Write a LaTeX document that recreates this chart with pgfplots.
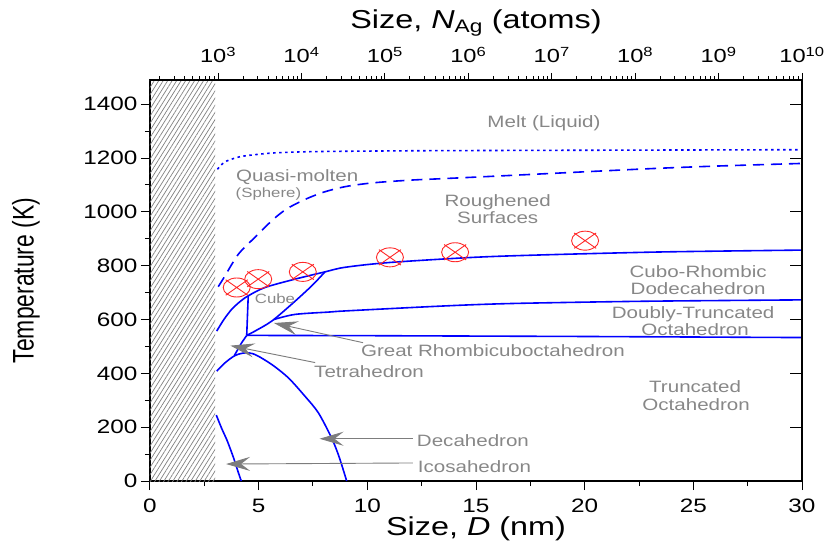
\documentclass[border=0pt]{standalone}
\usepackage{fontspec}
\setmainfont[FakeStretch=1.25]{Liberation Sans}
\newfontfamily\ylfont{Liberation Sans}
\usepackage{graphicx}
\usepackage{pgfplots}
\pgfplotsset{compat=1.18}
\usetikzlibrary{patterns.meta,arrows.meta}
\definecolor{lblgray}{RGB}{135,135,135}
\definecolor{arrgray}{RGB}{125,125,125}
\definecolor{mkred}{RGB}{255,40,40}
\pgfdeclareplotmark{ox}{%
  \pgfpathellipse{\pgfpointorigin}{\pgfpoint{13.5bp}{0bp}}{\pgfpoint{0bp}{9.5bp}}%
  \pgfpathmoveto{\pgfpoint{-11bp}{-7.7bp}}\pgfpathlineto{\pgfpoint{11bp}{7.7bp}}%
  \pgfpathmoveto{\pgfpoint{-11bp}{7.7bp}}\pgfpathlineto{\pgfpoint{11bp}{-7.7bp}}%
  \pgfusepathqstroke}
\tikzset{lbl/.style={text=lblgray,font=\fontsize{16.5}{18}\selectfont,anchor=base,inner sep=0pt},
  slbl/.style={text=lblgray,font=\fontsize{13.5}{15}\selectfont,anchor=base,inner sep=0pt},
  ann/.style={draw=arrgray,line width=0.9bp,{Stealth[length=24bp,width=14bp,inset=9bp]}-}}
\begin{document}
\begin{tikzpicture}
\begin{axis}[
  at={(0,0)}, anchor=south west,
  width=652bp, height=401bp, scale only axis,
  xmin=0, xmax=30, ymin=0, ymax=1490,
  xtick={0,5,...,30}, minor x tick num=1,
  ytick={0,200,...,1400}, minor y tick num=1,
  xtick pos=bottom, ytick pos=left, tick align=outside,
  major tick length=9bp, minor tick length=5bp,
  tick style={black, line width=1bp},
  axis line style={black, line width=1.3bp},
  /pgf/number format/assume math mode=true,
  /pgf/number format/1000 sep={},
  ticklabel style={font=\fontsize{19.5}{21}\selectfont},
  xticklabel style={anchor=base, yshift=-22bp},
  xlabel={Size, \textit{D} (nm)},
  ylabel={\scalebox{1}[1.3]{\ylfont\fontsize{23}{25}\selectfont Temperature (K)}},
  every axis x label/.style={at={(axis description cs:0.5,0)}, anchor=base, yshift=-54bp, font=\fontsize{26}{28}\selectfont},
  every axis y label/.style={at={(axis description cs:0,0.5)}, xshift=-124bp, rotate=90, anchor=center},
  clip=true,
]
% hatched forbidden region
\addplot[draw=none, pattern={Lines[angle=58,distance=3.8bp,line width=0.7bp]}, pattern color=black!50]
  coordinates {(0,0) (3,0) (3,1490) (0,1490) (0,0)};
% dotted melt boundary
\addplot[blue, line width=1.6bp, dash pattern=on 2.5bp off 3.5bp, smooth]
  coordinates {(3.1,1158) (3.3,1176) (3.53,1189) (4.14,1205) (5.0,1214) (5.7,1219) (7,1223) (8.7,1225) (12,1227) (15.5,1228) (20,1229) (25,1230) (30,1231)};
% dashed roughening boundary
\addplot[blue, line width=1.6bp, dash pattern=on 11bp off 7bp, smooth]
  coordinates {(3.14,722) (3.45,762) (3.8,810) (4.14,850) (4.91,912) (5.67,972) (6.29,1011) (7.1,1045) (7.98,1073) (9,1094) (10.28,1108) (12,1118) (13.35,1123) (15.2,1130) (18,1141) (22.86,1160) (26,1170) (30,1180)};
% solid upper boundary
\addplot[blue, line width=1.6bp, smooth]
  coordinates {(3.07,557) (3.4,600) (3.76,638) (4.15,667) (4.52,688) (5.29,719) (6.67,750) (8.05,777) (8.97,794) (11.04,812) (14.88,831) (18,840) (22.86,850) (26,854) (30,858)};
% cube vertical
\addplot[blue, line width=1.6bp] coordinates {(4.52,688) (4.45,541)};
% cube diagonal
\addplot[blue, line width=1.6bp, smooth] coordinates {(4.45,541) (4.83,557) (5.6,594) (6.52,657) (7.44,725) (8.05,777)};
% doubly-truncated upper boundary
\addplot[blue, line width=1.6bp, smooth] coordinates {(5.7,600) (6.67,619) (8.28,628) (9,632) (12.9,648) (15.2,656) (17.5,661) (22.86,668) (30,673)};
% horizontal boundary
\addplot[blue, line width=1.6bp] coordinates {(4.45,541) (10,540) (20,537) (30,533)};
% tetrahedron link
\addplot[blue, line width=1.6bp] coordinates {(3.88,466) (4.22,514) (4.45,541)};
% tetrahedron / decahedron boundary
\addplot[blue, line width=1.6bp, smooth]
  coordinates {(3.07,408) (3.45,439) (3.91,466) (4.37,476) (4.83,470) (5.6,433) (6.37,383) (7.13,315) (7.75,253) (8.36,159) (8.7,90) (9.05,0)};
% icosahedron boundary
\addplot[blue, line width=1.6bp, smooth]
  coordinates {(3.05,245) (3.3,195) (3.55,150) (3.85,85) (4.05,35) (4.2,0)};
% experimental points
\addplot[only marks, mark=ox, mkred, mark options={line width=0.9bp}]
  coordinates {(3.99,719) (4.98,750) (7.03,777) (11.04,831) (14.04,850) (20.02,893)};
% annotations
\draw[ann] (axis cs:3.5,63) -- (axis cs:12.1,67);
\draw[ann] (axis cs:7.8,157) -- (axis cs:12.1,157);
\draw[ann] (axis cs:3.7,503) -- (axis cs:7.6,440);
\draw[ann] (axis cs:5.7,587) -- (axis cs:9.8,514);
\node[lbl] at (axis cs:18.13,1312) {Melt (Liquid)};
\node[lbl] at (axis cs:6.77,1112) {Quasi-molten};
\node[slbl] at (axis cs:5.45,1052) {(Sphere)};
\node[lbl] at (axis cs:16.0,1019) {Roughened};
\node[lbl] at (axis cs:16.0,955) {Surfaces};
\node[lbl] at (axis cs:25.22,757) {Cubo-Rhombic};
\node[lbl] at (axis cs:25.22,694) {Dodecahedron};
\node[lbl] at (axis cs:24.99,604) {Doubly-Truncated};
\node[lbl] at (axis cs:25.08,541) {Octahedron};
\node[lbl] at (axis cs:25.08,328) {Truncated};
\node[lbl] at (axis cs:25.13,261) {Octahedron};
\node[lbl] at (axis cs:15.78,463) {Great Rhombicuboctahedron};
\node[lbl] at (axis cs:10.08,384) {Tetrahedron};
\node[lbl] at (axis cs:14.86,127) {Decahedron};
\node[lbl] at (axis cs:14.93,30) {Icosahedron};
\node[slbl] at (axis cs:5.75,660) {Cube};
\end{axis}
% top log axis (number of atoms)
\begin{axis}[
  at={(0,0)}, anchor=south west,
  width=652bp, height=401bp, scale only axis,
  xmode=log, xmin=153, xmax=1e10, ymin=0, ymax=1,
  axis x line*=top, axis y line=none,
  tick align=outside,
  major tick length=7bp, minor tick length=3.5bp,
  tick style={black, line width=1bp},
  axis line style={black, line width=1.3bp},
  xtick={1e3,1e4,1e5,1e6,1e7,1e8,1e9,1e10},
  xticklabels={10\textsuperscript{3},10\textsuperscript{4},10\textsuperscript{5},10\textsuperscript{6},10\textsuperscript{7},10\textsuperscript{8},10\textsuperscript{9},10\textsuperscript{10}},
  minor xtick={2e2,3e2,4e2,5e2,6e2,7e2,8e2,9e2,2e3,3e3,4e3,5e3,6e3,7e3,8e3,9e3,2e4,3e4,4e4,5e4,6e4,7e4,8e4,9e4,2e5,3e5,4e5,5e5,6e5,7e5,8e5,9e5,2e6,3e6,4e6,5e6,6e6,7e6,8e6,9e6,2e7,3e7,4e7,5e7,6e7,7e7,8e7,9e7,2e8,3e8,4e8,5e8,6e8,7e8,8e8,9e8,2e9,3e9,4e9,5e9,6e9,7e9,8e9,9e9},
  xticklabel style={font=\fontsize{19}{21}\selectfont, anchor=base, yshift=10bp},
  xlabel={Size, \textit{N}\textsubscript{Ag} (atoms)},
  every axis x label/.style={at={(axis description cs:0.5,1)}, anchor=base, yshift=51bp, font=\fontsize{26}{28}\selectfont},
]
\end{axis}
% right ticks (inside)
\begin{axis}[
  at={(0,0)}, anchor=south west,
  width=652bp, height=401bp, scale only axis,
  xmin=0, xmax=30, ymin=0, ymax=1490,
  axis x line=none, axis y line*=right,
  tick align=inside, major tick length=12bp,
  tick style={black, line width=1bp},
  axis line style={black, line width=1.3bp},
  ytick={0,200,...,1400}, yticklabels={},
]
\end{axis}
\pgfresetboundingbox
\path[use as bounding box] (-150bp,-76bp) rectangle (678bp,481bp);
\end{tikzpicture}
\end{document}
